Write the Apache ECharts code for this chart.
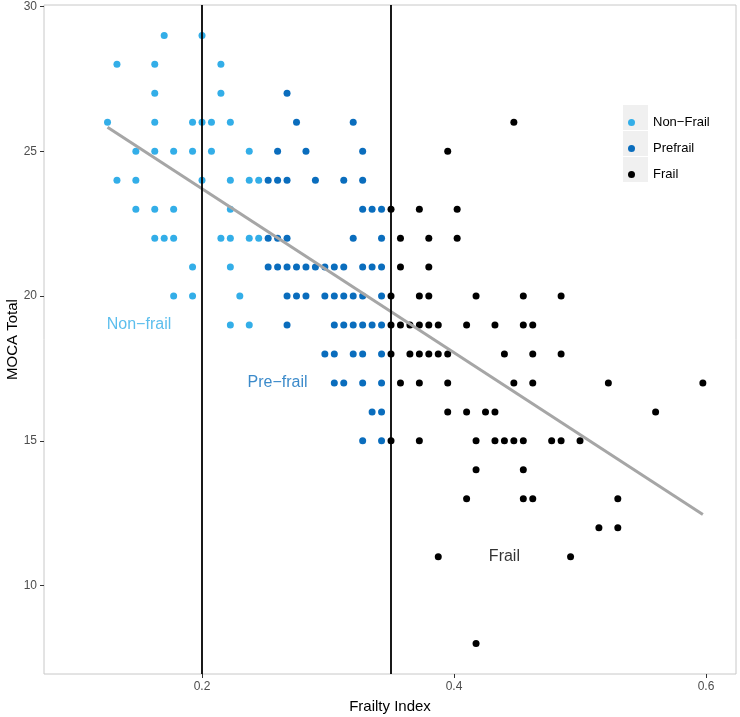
<!DOCTYPE html>
<html><head><meta charset="utf-8">
<script src="https://cdn.jsdelivr.net/npm/echarts@6/dist/echarts.min.js"></script>
<style>html,body{margin:0;padding:0;background:#fff}#c{width:740px;height:717px}</style>
</head><body><div id="c"></div>
<script>
// ---- data ----
const nonFrailFI = [
  0.17, 0.2,
  0.1325, 0.1625, 0.215,
  0.1625, 0.215,
  0.125, 0.1625, 0.1925, 0.2, 0.2075, 0.2225,
  0.1475, 0.1625, 0.1775, 0.1925, 0.2075, 0.2375,
  0.1325, 0.1475, 0.2, 0.2225, 0.2375, 0.245,
  0.1475, 0.1625, 0.1775, 0.2225,
  0.1625, 0.17, 0.1775, 0.215, 0.2225, 0.2375, 0.245,
  0.1925, 0.2225,
  0.1775, 0.1925, 0.23,
  0.2225, 0.2375
];
const nonFrailMoca = [
  29, 29,
  28, 28, 28,
  27, 27,
  26, 26, 26, 26, 26, 26,
  25, 25, 25, 25, 25, 25,
  24, 24, 24, 24, 24, 24,
  23, 23, 23, 23,
  22, 22, 22, 22, 22, 22, 22,
  21, 21,
  20, 20, 20,
  19, 19
];
const prefrailFI = [
  0.2675,
  0.275, 0.32,
  0.26, 0.2825, 0.3275,
  0.2525, 0.26, 0.2675, 0.29, 0.3125, 0.3275,
  0.3275, 0.335, 0.3425,
  0.2525, 0.26, 0.2675, 0.32, 0.3425,
  0.2525, 0.26, 0.2675, 0.275, 0.2825, 0.29, 0.2975, 0.305, 0.3125, 0.3275, 0.335, 0.3425,
  0.2675, 0.275, 0.2825, 0.2975, 0.305, 0.3125, 0.32, 0.3275, 0.3425,
  0.2675, 0.305, 0.3125, 0.32, 0.3275, 0.335, 0.3425,
  0.2975, 0.305, 0.32, 0.3275, 0.3425,
  0.305, 0.3125, 0.3275, 0.3425,
  0.335, 0.3425,
  0.3275, 0.3425
];
const prefrailMoca = [
  27,
  26, 26,
  25, 25, 25,
  24, 24, 24, 24, 24, 24,
  23, 23, 23,
  22, 22, 22, 22, 22,
  21, 21, 21, 21, 21, 21, 21, 21, 21, 21, 21, 21,
  20, 20, 20, 20, 20, 20, 20, 20, 20,
  19, 19, 19, 19, 19, 19, 19,
  18, 18, 18, 18, 18,
  17, 17, 17, 17,
  16, 16,
  15, 15
];
const frailFI = [
  0.4475,
  0.395,
  0.35, 0.3725, 0.4025,
  0.3575, 0.38, 0.4025,
  0.3575, 0.38,
  0.35, 0.3725, 0.38, 0.4175, 0.455, 0.485,
  0.35, 0.3575, 0.365, 0.3725, 0.38, 0.3875, 0.41, 0.4325, 0.455, 0.4625,
  0.35, 0.365, 0.3725, 0.38, 0.3875, 0.395, 0.44, 0.4625, 0.485,
  0.3575, 0.3725, 0.395, 0.4475, 0.4625, 0.5225, 0.5975,
  0.395, 0.41, 0.425, 0.4325, 0.56,
  0.35, 0.3725, 0.4175, 0.4325, 0.44, 0.4475, 0.455, 0.4775, 0.485, 0.5,
  0.4175, 0.455,
  0.41, 0.455, 0.4625, 0.53,
  0.515, 0.53,
  0.3875, 0.4925,
  0.4175
];
const frailMoca = [
  26,
  25,
  23, 23, 23,
  22, 22, 22,
  21, 21,
  20, 20, 20, 20, 20, 20,
  19, 19, 19, 19, 19, 19, 19, 19, 19, 19,
  18, 18, 18, 18, 18, 18, 18, 18, 18,
  17, 17, 17, 17, 17, 17, 17,
  16, 16, 16, 16, 16,
  15, 15, 15, 15, 15, 15, 15, 15, 15, 15,
  14, 14,
  13, 13, 13, 13,
  12, 12,
  11, 11,
  8
];
const groupNames = ['Non\u2212Frail', 'Prefrail', 'Frail'];
const cutoffs = [0.2, 0.35];
const annoLabels = ['Non\u2212frail', 'Pre\u2212frail', 'Frail'];
const annoFI = [0.15, 0.26, 0.44];
const annoMoca = [19, 17, 11];
const xTicks = [0.2, 0.4, 0.6];
const yTicks = [10, 15, 20, 25, 30];

// ---- styles ----
const colors = ['#33AEE8', '#0A6DBD', '#000000'];
const FONT = '"Liberation Sans", Arial, sans-serif';

const zip = (a, b) => a.map((v, i) => [v, b[i]]);
const groups = [zip(nonFrailFI, nonFrailMoca), zip(prefrailFI, prefrailMoca), zip(frailFI, frailMoca)];

// least-squares fit over all points
const allX = [].concat(nonFrailFI, prefrailFI, frailFI);
const allY = [].concat(nonFrailMoca, prefrailMoca, frailMoca);
const n = allX.length;
const mx = allX.reduce((s, v) => s + v, 0) / n;
const my = allY.reduce((s, v) => s + v, 0) / n;
let sxy = 0, sxx = 0;
for (let i = 0; i < n; i++) { sxy += (allX[i] - mx) * (allY[i] - my); sxx += (allX[i] - mx) ** 2; }
const slope = sxy / sxx, icpt = my - slope * mx;
const xmin = Math.min(...allX), xmax = Math.max(...allX);
const fitLine = [[xmin, icpt + slope * xmin], [xmax, icpt + slope * xmax]];

const chart = echarts.init(document.getElementById('c'), null, { renderer: 'canvas' });
const series = [
  {
    type: 'line', data: [], silent: true, z: 1,
    markLine: {
      silent: true, symbol: ['none', 'none'], label: { show: false },
      lineStyle: { color: '#000', width: 1.8, type: 'solid' },
      emphasis: { disabled: true },
      data: cutoffs.map(c => ({ xAxis: c }))
    }
  }
];
groups.forEach((g, i) => series.push({
  name: groupNames[i], type: 'scatter', data: g, symbol: 'circle', symbolSize: 7,
  itemStyle: { color: colors[i], opacity: 1 }, z: 2, silent: true
}));
series.push({
  type: 'line', data: fitLine, showSymbol: false, symbol: 'none', silent: true, z: 3,
  lineStyle: { color: '#A6A6A6', width: 3 }
});
series.push({
  type: 'scatter', symbolSize: 0, silent: true, z: 4,
  data: annoLabels.map((t, i) => ({
    value: [annoFI[i], annoMoca[i]], name: t,
    label: { show: true, position: 'inside', formatter: t, color: colors[i], fontSize: 16, fontFamily: FONT }
  }))
});

chart.setOption({
  animation: false,
  backgroundColor: '#fff',
  grid: { left: 44, right: 4, top: 5, bottom: 43, show: true, borderColor: '#C8C8C8', borderWidth: 1,
          backgroundColor: 'transparent', containLabel: false, outerBoundsMode: 'none' },
  xAxis: {
    type: 'value', min: 0.0746, max: 0.6238,
    name: 'Frailty Index', nameLocation: 'middle', nameGap: 25, nameMoveOverlap: false,
    nameTextStyle: { fontSize: 15, color: '#000', fontFamily: FONT },
    axisLine: { show: false },
    axisTick: { show: true, length: 4, customValues: xTicks, lineStyle: { color: '#333' } },
    axisLabel: { customValues: xTicks, formatter: v => v.toFixed(1), color: '#4D4D4D', fontSize: 12, margin: 7, fontFamily: FONT },
    splitLine: { show: false }
  },
  yAxis: {
    type: 'value', min: 6.95, max: 30.05,
    name: 'MOCA Total', nameLocation: 'middle', nameGap: 24, nameRotate: 90, nameMoveOverlap: false,
    nameTextStyle: { fontSize: 15, color: '#000', fontFamily: FONT },
    axisLine: { show: false },
    axisTick: { show: true, length: 4, customValues: yTicks, lineStyle: { color: '#333' } },
    axisLabel: { customValues: yTicks, color: '#4D4D4D', fontSize: 12, margin: 7, fontFamily: FONT },
    splitLine: { show: false }
  },
  legend: {
    data: groupNames, orient: 'vertical', left: 623, top: 105, z: 10,
    itemWidth: 25, itemHeight: 7, itemGap: 1, icon: 'circle', symbolKeepAspect: true,
    selectedMode: false,
    formatter: name => '{t|' + name + '}',
    textStyle: { fontSize: 13, color: '#000', fontFamily: FONT, lineHeight: 25,
                 rich: { t: { fontSize: 13, color: '#000', fontFamily: FONT, lineHeight: 25, padding: [0, 0, 0, 4] } } }
  },
  graphic: [0, 1, 2].map(i => ({
    type: 'rect', left: 623, top: 105 + 26 * i, z: 5,
    shape: { width: 25, height: 25 }, style: { fill: '#F0F0F0' }, silent: true
  })),
  series
});
</script>
</body></html>
